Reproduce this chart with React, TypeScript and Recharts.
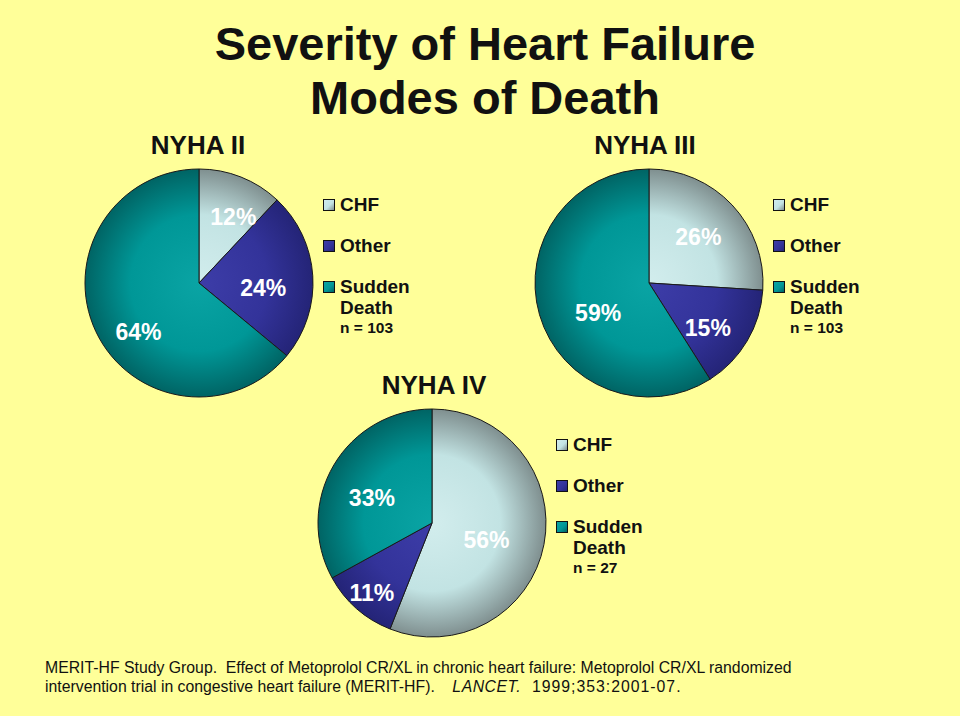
import React from 'react';
import { PieChart, Pie, Cell, Legend } from 'recharts';

const categories = ['CHF', 'Other', 'Sudden Death'];
const groupTitles = ['NYHA II', 'NYHA III', 'NYHA IV'];
const nyhaIIValues = [12, 24, 64];
const nyhaIIIValues = [26, 15, 59];
const nyhaIVValues = [56, 11, 33];
const sampleSizes = [103, 103, 27];

const FONT = '"Liberation Sans", Arial, Helvetica, sans-serif';
const TEXT = '#111111';
const BG = '#FFFF99';
const RADIAN = Math.PI / 180;
const RADIUS = 114;

const sliceColors = [
  { light: '#D2EDED', base: '#C2E3E3', dark: '#7F8F8F' },
  { light: '#3D3DA8', base: '#33339A', dark: '#242477' },
  { light: '#0AA4A4', base: '#009797', dark: '#006464' },
];

// centre of each pie on the page, label nudges (clockwise degrees, share of radius)
const pieLayout = [
  {
    cx: 199, cy: 283, titleX: 198, titleY: 132,
    labels: [{ da: 5.8, r: 0.655 }, { da: 8.3, r: 0.566 }, { da: -13.5, r: 0.68 }],
  },
  {
    cx: 649, cy: 283, titleX: 645, titleY: 132,
    labels: [{ da: 0.4, r: 0.59 }, { da: 6.8, r: 0.65 }, { da: -14.7, r: 0.52 }],
  },
  {
    cx: 432, cy: 523, titleX: 434, titleY: 372,
    labels: [{ da: 6.5, r: 0.5 }, { da: -0.8, r: 0.81 }, { da: -8.3, r: 0.57 }],
  },
];

const groups = [nyhaIIValues, nyhaIIIValues, nyhaIVValues];

function makeLabel(tweaks: { da: number; r: number }[]) {
  return function PieLabel(props: any) {
    const { cx, cy, midAngle, outerRadius, value, index } = props;
    const t = tweaks[index] || { da: 0, r: 0.6 };
    const angle = (midAngle - t.da) * RADIAN;
    const r = outerRadius * t.r;
    const x = cx + r * Math.cos(angle);
    const y = cy - r * Math.sin(angle);
    return (
      <text
        x={x}
        y={y}
        dy="0.35em"
        textAnchor="middle"
        fill="#ffffff"
        fontSize={23}
        fontWeight="bold"
        fontFamily={FONT}
      >
        {`${value}%`}
      </text>
    );
  };
}

function LegendBox({ n }: { n: number }) {
  const row = (i: number, top: number) => {
    const c = sliceColors[i];
    const words = categories[i].split(' ');
    return (
      <div key={i} style={{ position: 'absolute', left: 0, top, whiteSpace: 'nowrap' }}>
        <div
          style={{
            position: 'absolute',
            left: 0,
            top: 5,
            width: 10,
            height: 10,
            border: '1px solid #111',
            background: `linear-gradient(135deg, ${c.light} 0%, ${c.base} 55%, ${c.dark} 100%)`,
          }}
        />
        <div style={{ marginLeft: 17, fontSize: 19, lineHeight: '21px', fontWeight: 'bold', color: TEXT }}>
          {words.map((w) => (
            <div key={w}>{w}</div>
          ))}
          {i === 2 && <div style={{ fontSize: 15.5, lineHeight: '19px' }}>n = {n}</div>}
        </div>
      </div>
    );
  };
  return (
    <div style={{ position: 'relative', width: 130, height: 160, fontFamily: FONT }}>
      {row(0, 0)}
      {row(1, 41)}
      {row(2, 82)}
    </div>
  );
}

function GroupPie({ idx }: { idx: number }) {
  const layout = pieLayout[idx];
  const data = categories.map((name, i) => ({ name, value: groups[idx][i] }));
  const id = `g${idx}`;
  return (
    <div style={{ position: 'absolute', left: layout.cx - 120, top: layout.cy - 120 }}>
      <PieChart width={400} height={240} margin={{ top: 0, right: 0, bottom: 0, left: 0 }}>
        <defs>
          {sliceColors.map((c, i) => (
            <radialGradient key={i} id={`${id}-${i}`} gradientUnits="userSpaceOnUse" cx={120} cy={120} r={RADIUS}>
              <stop offset="0%" stopColor={c.light} />
              <stop offset="60%" stopColor={c.base} />
              <stop offset="100%" stopColor={c.dark} />
            </radialGradient>
          ))}
        </defs>
        <Pie
          data={data}
          dataKey="value"
          nameKey="name"
          cx={120}
          cy={120}
          outerRadius={RADIUS}
          startAngle={90}
          endAngle={-270}
          stroke="#1a1a1a"
          strokeWidth={1}
          label={makeLabel(layout.labels)}
          labelLine={false}
          isAnimationActive={false}
        >
          {data.map((d, i) => (
            <Cell key={d.name} fill={`url(#${id}-${i})`} />
          ))}
        </Pie>
        <Legend
          layout="vertical"
          align="right"
          verticalAlign="middle"
          content={() => <LegendBox n={sampleSizes[idx]} />}
          wrapperStyle={{ position: 'absolute', left: 244, top: 31, width: 140 }}
        />
      </PieChart>
    </div>
  );
}

export default function App() {
  return (
    <div
      style={{
        position: 'fixed',
        left: 0,
        top: 0,
        width: 960,
        height: 716,
        background: BG,
        fontFamily: FONT,
        color: TEXT,
        overflow: 'hidden',
      }}
    >
      <div style={{ position: 'absolute', left: 85, top: 20, width: 800, textAlign: 'center', fontSize: 47, lineHeight: '47px', fontWeight: 'bold' }}>
        Severity of Heart Failure
      </div>
      <div style={{ position: 'absolute', left: 85, top: 74, width: 800, textAlign: 'center', fontSize: 47, lineHeight: '47px', fontWeight: 'bold' }}>
        Modes of Death
      </div>
      {pieLayout.map((l, i) => (
        <div
          key={groupTitles[i]}
          style={{
            position: 'absolute',
            left: l.titleX - 100,
            top: l.titleY,
            width: 200,
            textAlign: 'center',
            fontSize: 26,
            lineHeight: '26px',
            fontWeight: 'bold',
          }}
        >
          {groupTitles[i]}
        </div>
      ))}
      {[0, 1, 2].map((i) => (
        <GroupPie key={i} idx={i} />
      ))}
      <div style={{ position: 'absolute', left: 45, top: 658, fontSize: 15.8, lineHeight: '19px', whiteSpace: 'pre' }}>
        {'MERIT-HF Study Group.  Effect of Metoprolol CR/XL in chronic heart failure: Metoprolol CR/XL randomized'}
        {'\n'}
        {'intervention trial in congestive heart failure (MERIT-HF).    '}
        <i style={{ letterSpacing: 0.5 }}>LANCET.</i>
        <span style={{ letterSpacing: 1 }}>{'  1999;353:2001-07.'}</span>
      </div>
    </div>
  );
}
